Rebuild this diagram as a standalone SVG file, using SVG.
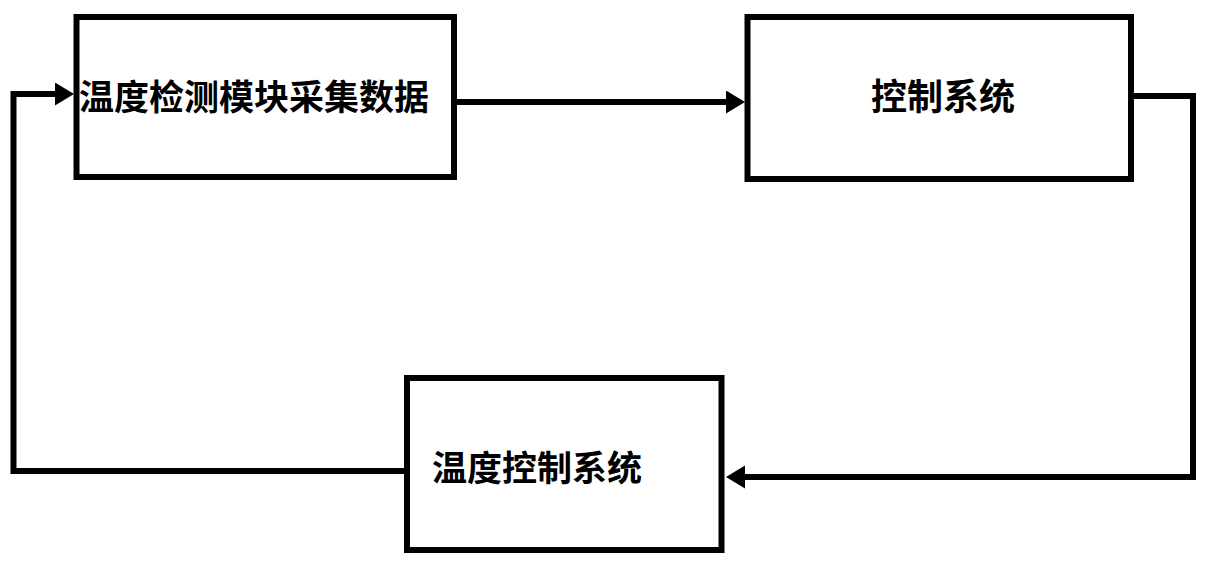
<svg xmlns="http://www.w3.org/2000/svg" width="1210" height="567" viewBox="0 0 1210 567">
<defs>
<style>
.box{fill:#fff;stroke:#000;stroke-width:6}
.lbl{font-family:"Noto Sans CJK SC","Noto Sans",sans-serif;font-weight:bold;fill:#000}
.conn{fill:none;stroke:#000;stroke-width:6;stroke-linejoin:miter}
</style>
<marker id="arr" markerUnits="userSpaceOnUse" markerWidth="20" markerHeight="24" refX="8" refY="11.5" orient="auto" viewBox="0 0 20 24">
<path d="M0,0 L19,11.5 L0,23 z" fill="#000"/>
</marker>
</defs>
<rect width="1210" height="567" fill="#fff"/>
<g id="node-detect">
<rect class="box" x="76.5" y="17" width="377.5" height="160"/>
<text class="lbl" x="79" y="110" font-size="35">温度检测模块采集数据</text>
</g>
<g id="node-control">
<rect class="box" x="747.5" y="17" width="383.5" height="162"/>
<text class="lbl" x="871" y="110" font-size="36">控制系统</text>
</g>
<g id="node-temp">
<rect class="box" x="407" y="378" width="314.5" height="172"/>
<text class="lbl" x="432" y="481" font-size="35">温度控制系统</text>
</g>
<g id="connectors">
<path class="conn" d="M404 471 H13.5 V94 H63" marker-end="url(#arr)"/>
<path class="conn" d="M457 102 H734" marker-end="url(#arr)"/>
<path class="conn" d="M1134 96 H1193 V477 H737" marker-end="url(#arr)"/>
</g>
</svg>
